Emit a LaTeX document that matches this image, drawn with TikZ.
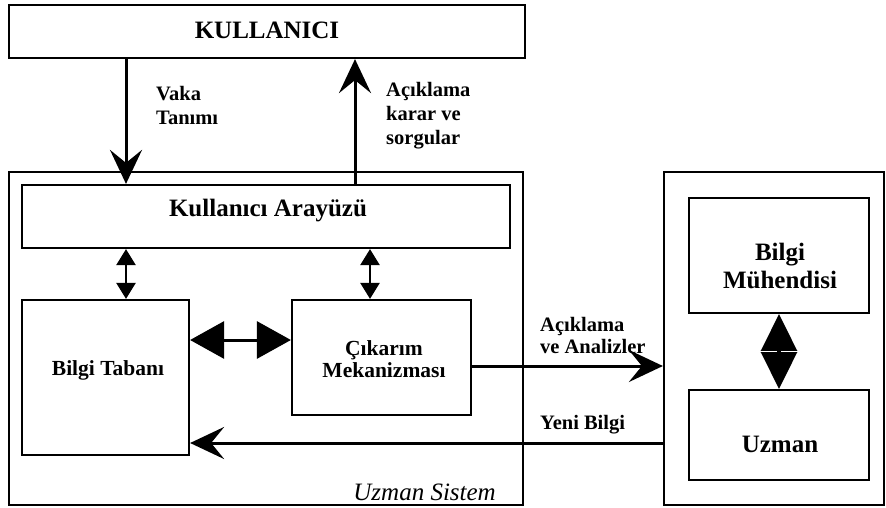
\documentclass[tikz,border=0pt]{standalone}
\usepackage{fontspec}
\setmainfont{Liberation Serif}
\usetikzlibrary{arrows.meta,calc}
\begin{document}
\begin{tikzpicture}[x=1pt,y=-1pt,
  box/.style={draw, line width=2.2pt, rectangle, inner sep=0pt},
  txt/.style={inner sep=0pt, font=\fontsize{21}{23}\selectfont\bfseries, align=center},
  lbl/.style={inner sep=0pt, font=\fontsize{20.5}{24}\selectfont\bfseries, align=left, anchor=west},
  flow/.style={line width=3pt, -{Stealth[length=34pt,width=32pt,inset=13pt]}},
  smallda/.style={line width=2.5pt, {Triangle[length=16pt,width=19pt]}-{Triangle[length=16pt,width=19pt]}},
  bigda/.style={line width=3pt, {Triangle[length=34pt,width=37pt]}-{Triangle[length=34pt,width=37pt]}},
  diada/.style={line width=3pt, {Triangle[length=38pt,width=37pt]}-{Triangle[length=38pt,width=37pt]}}
]
\useasboundingbox (0,0) rectangle (886,508);
\fill[white] (0,0) rectangle (886,508);

% boxes
\node[box, minimum width=516pt, minimum height=53pt] (kul) at (267,31.5) {};
\node[txt, font=\fontsize{25}{28}\selectfont\bfseries] (kult) at (267,30) {KULLANICI};

\node[box, minimum width=514pt, minimum height=333pt] (us) at (266,338.5) {};
\node[inner sep=0pt, anchor=east, font=\fontsize{25}{28}\selectfont\itshape] (ust) at (496,492) {Uzman Sistem};

\node[box, minimum width=488pt, minimum height=63pt] (ka) at (266,216.5) {};
\node[txt, font=\fontsize{25}{28}\selectfont\bfseries] (kat) at (268,211) {Kullanıcı Arayüzü};

\node[box, minimum width=167pt, minimum height=155pt] (bt) at (105.5,377.5) {};
\node[txt, font=\fontsize{21.5}{24}\selectfont\bfseries] (btt) at (108,370) {Bilgi Tabanı};

\node[box, minimum width=179pt, minimum height=115pt] (cm) at (381.5,357.5) {};
\node[txt, font=\fontsize{21.5}{22}\selectfont\bfseries] (cmt) at (384,359) {Çıkarım\\Mekanizması};

\node[box, minimum width=220pt, minimum height=333pt] (rb) at (774,338.5) {};
\node[box, minimum width=180pt, minimum height=115pt] (bm) at (779,255.5) {};
\node[txt, font=\fontsize{25}{28}\selectfont\bfseries] (bmt) at (780,266) {Bilgi\\Mühendisi};
\node[box, minimum width=180pt, minimum height=90pt] (uz) at (779,435) {};
\node[txt, font=\fontsize{25}{28}\selectfont\bfseries] (uzt) at (780,444) {Uzman};

% x positions
\coordinate (xa) at (126,0);
\coordinate (xb) at (355,0);
\coordinate (xc) at (370,0);
\coordinate (ya) at (0,340);
\coordinate (yb) at (0,366);
\coordinate (yc) at (0,443);

% connectors
\draw[flow] (xa |- kul.south) -- (xa |- ka.north);
\draw[flow] (xb |- ka.north) -- (xb |- kul.south);
\draw[smallda] (xa |- ka.south) -- (xa |- bt.north);
\draw[smallda] (xc |- ka.south) -- (xc |- cm.north);
\draw[bigda] (bt.east |- ya) -- (cm.west |- ya);
\draw[flow] (cm.east |- yb) -- (rb.west |- yb);
\draw[flow] (rb.west |- yc) -- (bt.east |- yc);
\draw[diada] (bm.south) -- (uz.north);
\coordinate (dc) at ($(bm.south)!0.5!(uz.north)$);
\draw[white, line width=1.6pt] ($(dc)+(-20,0)$) -- ($(dc)+(-2.2,0)$);
\draw[white, line width=1.6pt] ($(dc)+(2.2,0)$) -- ($(dc)+(20,0)$);

% labels
\node[lbl] (l1) at (156,105) {Vaka\\Tanımı};
\node[lbl] (l2) at (386,116) {Açıklama\\karar ve\\sorgular};
\node[lbl, font=\fontsize{20.5}{22}\selectfont\bfseries] (l3) at (540,335) {Açıklama\\ve Analizler};
\node[lbl] (l4) at (540,425) {Yeni Bilgi};
\end{tikzpicture}
\end{document}
